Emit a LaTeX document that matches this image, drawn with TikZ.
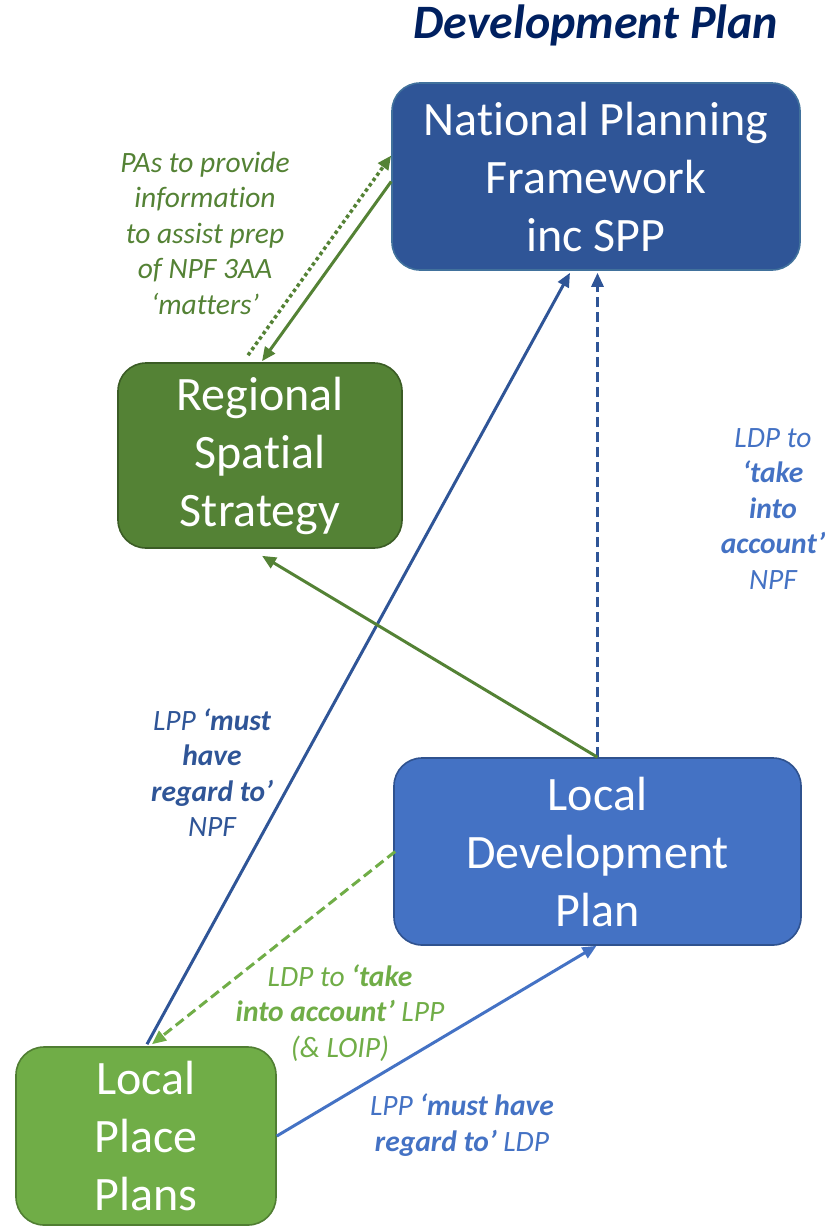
\documentclass[tikz,border=0pt]{standalone}
\usepackage{fontspec}
\setmainfont{Carlito}[Ligatures={NoCommon,TeX}]
\usetikzlibrary{arrows.meta}
\definecolor{dkblue}{HTML}{2F5597}
\definecolor{dkblueline}{HTML}{41719C}
\definecolor{mblue}{HTML}{4472C4}
\definecolor{mblueline}{HTML}{2F528F}
\definecolor{dkgreen}{HTML}{548235}
\definecolor{dkgreenline}{HTML}{3B5C25}
\definecolor{lgreen}{HTML}{70AD47}
\definecolor{lgreenline}{HTML}{507E32}
\definecolor{navy}{HTML}{002060}
\tikzset{
  box/.style={rounded corners=28pt, draw, line width=1.6pt, text=white, align=center,
    font=\fontsize{48}{58}\selectfont, inner sep=0pt},
  lbl/.style={align=center, font=\itshape\fontsize{29.5}{35.5}\selectfont, inner sep=0pt},
  conn/.style={line width=3pt, -{Triangle[length=14pt,width=12pt]}},
}
\begin{document}
\begin{tikzpicture}[x=1pt,y=-1pt]
\useasboundingbox (0,0) rectangle (838,1227);

\node[font=\bfseries\itshape\fontsize{48}{56}\selectfont, text=navy, inner sep=0pt] (title) at (596,25) {Development Plan};

\node[box, fill=dkblue, draw=dkblueline, minimum width=408pt, minimum height=187pt] (npf) at (596,176.5)
  {National Planning\\Framework\\inc SPP};
\node[box, fill=dkgreen, draw=dkgreenline, minimum width=284pt, minimum height=185pt] (rss) at (260,455.5)
  {Regional\\Spatial\\Strategy};
\node[box, fill=mblue, draw=mblueline, minimum width=407pt, minimum height=187pt] (ldp) at (597.5,851.5)
  {Local\\Development\\Plan};
\node[box, fill=lgreen, draw=lgreenline, minimum width=260pt, minimum height=178pt] (lpp) at (146,1136)
  {Local\\Place\\Plans};

% connectors
\draw[conn, dkgreen, line width=3.5pt, dash pattern=on 3.5pt off 3pt] ([xshift=-12pt,yshift=7pt]rss.north) -- ([yshift=21pt]npf.west);
\draw[conn, dkgreen] ([yshift=-5pt]npf.west) -- ([xshift=2pt,yshift=1pt]rss.north);
\draw[conn, dkblue] ([xshift=1pt,yshift=2pt]lpp.north) -- ([xshift=-26pt,yshift=-2pt]npf.south);
\draw[conn, dkblue, dash pattern=on 10pt off 5pt] (ldp.north) -- ([yshift=-2pt]ldp.north |- npf.south);
\draw[conn, dkgreen] (ldp.north) -- ([xshift=2pt,yshift=-7pt]rss.south);
\draw[conn, lgreen, dash pattern=on 10pt off 5pt] ([xshift=2pt]ldp.west) -- ([xshift=6pt,yshift=2pt]lpp.north);
\draw[conn, mblue] (lpp.east) -- ([xshift=-1pt]ldp.south);

% labels
\node[lbl, text=dkgreen] (l1) at (205,233)
  {PAs to provide\\information\\to assist prep\\of NPF 3AA\\‘matters’};
\node[lbl, text=mblue] (l2) at (773,509)
  {LDP to\\\textbf{‘take}\\\textbf{into}\\\textbf{account’}\\NPF};
\node[lbl, text=dkblue] (l3) at (212,772.5)
  {LPP \textbf{‘must}\\\textbf{have}\\\textbf{regard to’}\\NPF};
\node[lbl, text=lgreen] (l4) at (340,1013)
  {LDP to \textbf{‘take}\\\textbf{into account’} LPP\\(\& LOIP)};
\node[lbl, text=mblue] (l5) at (462,1125)
  {LPP \textbf{‘must have}\\\textbf{regard to’} LDP};
\end{tikzpicture}
\end{document}
